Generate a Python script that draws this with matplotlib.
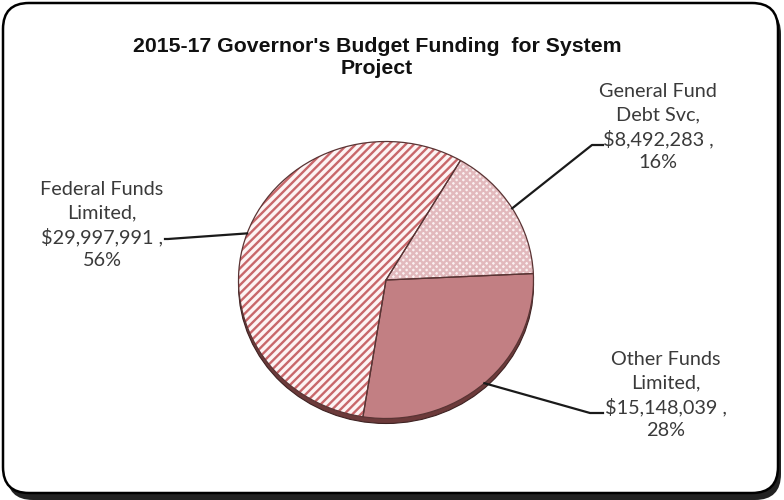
import numpy as np
import matplotlib
matplotlib.use("Agg")
import matplotlib.pyplot as plt
from matplotlib.patches import FancyBboxPatch, Ellipse
from matplotlib.transforms import Affine2D

# Budget data (wedges drawn counter-clockwise from the bottom)
categories = ["Other Funds\nLimited", "General Fund\nDebt Svc", "Federal Funds\nLimited"]
amounts = [15148039, 8492283, 29997991]
title = "2015-17 Governor's Budget Funding  for System\nProject"

# wedge look
faces = ["#c27f83", "#fbf1f2", "#fdf4f4"]
hatches = ["", "xxxxx", "////"]
hatch_colors = ["#c27f83", "#e2b9bd", "#c8676a"]

# label placement (pixels, from the top left)
label_pos = [(666, 395), (658, 127), (102, 225)]
elbows = [[(590, 413), (603, 413)], [(592, 145), (603, 145)], [(168, 239), (165, 239)]]

W, H = 784, 500
plt.rcParams["hatch.linewidth"] = 1.7

fig = plt.figure(figsize=(W / 100, H / 100), dpi=100)
ax = fig.add_axes([0, 0, 1, 1])

# pie geometry in pixels
cx, cy = 386, H - 280
rx, ry = 147.5, 138.5
depth = 5

wedges, _ = ax.pie(amounts, colors=faces, hatch=hatches, startangle=-99,
                   center=(cx, cy), radius=rx, wedgeprops=dict(linewidth=0))
for w, hc in zip(wedges, hatch_colors):
    w.set_edgecolor(hc)
    w.set_linewidth(0)
outlines, _ = ax.pie(amounts, startangle=-99, center=(cx, cy), radius=rx,
                     wedgeprops=dict(fill=False, edgecolor="#5a3434", linewidth=0.9))

ax.set_aspect("auto")
ax.set_xlim(0, W)
ax.set_ylim(0, H)
ax.axis("off")

# squash the circle into the tilted ellipse
squash = Affine2D().translate(-cx, -cy).scale(1, ry / rx).translate(cx, cy)
for w in list(wedges) + list(outlines):
    w.set_transform(squash + ax.transData)
    w.set_zorder(3)

# side of the disc
rim = Ellipse((cx, cy - depth), 2 * rx, 2 * ry, facecolor="#6c3a3a",
              edgecolor="#3e2222", linewidth=0.8, zorder=2)
ax.add_patch(rim)

# frame with a drop shadow
shadow = FancyBboxPatch((7, 0), W - 10, H - 8, boxstyle="round,pad=0,rounding_size=26",
                        facecolor="#222222", edgecolor="none", zorder=0)
frame = FancyBboxPatch((3, 7), W - 9, H - 10, boxstyle="round,pad=0,rounding_size=26",
                       facecolor="white", edgecolor="black", linewidth=1.8, zorder=1)
ax.add_patch(shadow)
ax.add_patch(frame)

ax.text(377, H - 58, title, ha="center", va="center", fontsize=15.3, fontweight="bold",
        family="Liberation Sans", color="#111111", linespacing=1.2, zorder=5)

# data labels with leader lines
total = sum(amounts)
start = -99.0
for name, amt, (tx, ty), pts in zip(categories, amounts, label_pos, elbows):
    span = 360.0 * amt / total
    mid = np.deg2rad(start + span / 2)
    start += span
    ax_pt = (cx + rx * np.cos(mid), cy + ry * np.sin(mid))
    xs = [ax_pt[0]] + [p[0] for p in pts]
    ys = [ax_pt[1]] + [H - p[1] for p in pts]
    ax.plot(xs, ys, color="#1a1a1a", linewidth=1.6, zorder=4)
    pct = round(100 * amt / total)
    txt = f"{name},\n${amt:,} ,\n{pct}%"
    ax.text(tx, H - ty, txt, ha="center", va="center", fontsize=14.3, family="Lato",
            color="#3a3a3a", linespacing=1.4, zorder=5)

fig.savefig("out.png", dpi=100)
